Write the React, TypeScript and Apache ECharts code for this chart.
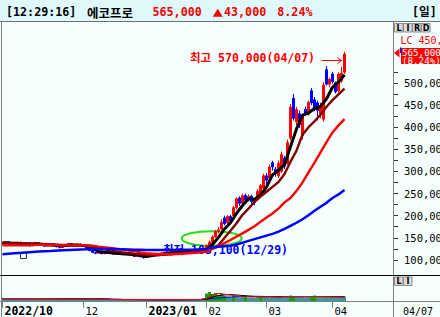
import React, { useEffect, useRef } from 'react';
import * as echarts from 'echarts';

// ---- categories (trading days) ----
const tradingDays: [string, number[]][] = [
  ['2022/10', [25, 26, 27, 28, 31]],
  ['2022/11', [1, 2, 3, 4, 7, 8, 9, 10, 11, 14, 15, 16, 17, 18, 21, 22, 23, 24, 25, 28, 29, 30]],
  ['2022/12', [1, 2, 5, 6, 7, 8, 9, 12, 13, 14, 15, 16, 19, 20, 21, 22, 23, 26, 27, 28, 29]],
  ['2023/01', [2, 3, 4, 5, 6, 9, 10, 11, 12, 13, 16, 17, 18, 19, 20, 25, 26, 27, 30, 31]],
  ['2023/02', [1, 2, 3, 6, 7, 8, 9, 10, 13, 14, 15, 16, 17, 20, 21, 22, 23, 24, 27, 28]],
  ['2023/03', [2, 3, 6, 7, 8, 9, 10, 13, 14, 15, 16, 17, 20, 21, 22, 23, 24, 27, 28, 29, 30, 31]],
  ['2023/04', [3, 4, 5, 6, 7]],
];
const dates: string[] = tradingDays.flatMap(([m, ds]) => ds.map((d) => `${m}/${String(d).padStart(2, '0')}`));
const emptySlots = 16;

const axisLabelDates = ['2022/10/25', '2022/12/01', '2023/01/02', '2023/02/01', '2023/03/02', '2023/04/03'];
const axisLabelTexts = ['2022/10', '12', '2023/01', '02', '03', '04'];
const axisLabelBold = [true, false, true, false, false, false];

// ---- prices, thousand won: [open, close, low, high] ----
const ohlc: number[][] = [
  [136, 138, 134, 140], [138, 141, 136, 143], [141, 136, 135, 142], [136, 139, 134, 140], [139, 137, 135, 141],
  [137, 140, 136, 142], [140, 137, 135, 141], [137, 133, 132, 138], [133, 135, 131, 137], [135, 132, 130, 136],
  [132, 136, 131, 137], [136, 139, 134, 141], [139, 137, 135, 140], [137, 134, 133, 138], [134, 131, 129, 135],
  [131, 133, 130, 134], [133, 136, 132, 137], [136, 134, 133, 137], [134, 130, 128, 135], [130, 128, 126, 131],
  [128, 131, 127, 132], [131, 134, 130, 135], [134, 137, 133, 139], [137, 135, 134, 138], [135, 133, 132, 136],
  [133, 136, 132, 137], [136, 134, 133, 137], [134, 131, 130, 135], [131, 126, 125, 132], [126, 121, 120, 127],
  [121, 117, 116, 122], [117, 115, 113, 118], [115, 117, 114, 119], [117, 114, 113, 118], [114, 116, 113, 117],
  [116, 118, 115, 119], [118, 115, 114, 119], [115, 113, 112, 116], [113, 116, 112, 117], [116, 114, 113, 117],
  [114, 112, 111, 115], [112, 115, 111, 116], [115, 113, 112, 116], [113, 110, 109, 114], [110, 108, 107, 111],
  [108, 110, 107, 111], [110, 107, 106, 111], [107, 106, 103.1, 108], [106, 110, 105, 111], [110, 113, 109, 114],
  [113, 111, 110, 114], [111, 115, 110, 116], [115, 113, 112, 116], [113, 116, 112, 117], [116, 114, 113, 117],
  [114, 118, 113, 119], [118, 116, 115, 119], [116, 119, 115, 120], [119, 117, 116, 120], [117, 120, 116, 121],
  [120, 118, 117, 121], [118, 121, 117, 122], [121, 119, 118, 122], [119, 120, 118, 121], [120, 118, 117, 121],
  [118, 121, 117, 122], [121, 122, 119, 124], [122, 127, 121, 128], [124, 132, 122, 135], [132, 140, 130, 144],
  [140, 152, 138, 156], [152, 165, 150, 168], [165, 168, 160, 174], [170, 185, 168, 192], [195, 182, 178, 200],
  [184, 198, 180, 201], [198, 188, 184, 202], [200, 218, 196, 222], [218, 238, 214, 242], [240, 228, 222, 244],
  [228, 245, 225, 250], [246, 235, 230, 250], [236, 244, 232, 248], [244, 232, 226, 247], [234, 230, 224, 238],
  [236, 255, 233, 260], [250, 268, 246, 272], [262, 290, 258, 295], [290, 280, 272, 296], [285, 310, 280, 316],
  [320, 310, 302, 324], [305, 295, 288, 310], [290, 318, 285, 325], [300, 338, 296, 345], [330, 312, 305, 335],
  [318, 365, 315, 372], [375, 445, 370, 452], [465, 420, 415, 475], [412, 440, 405, 446], [430, 405, 398, 438],
  [380, 425, 372, 430], [440, 432, 425, 446], [430, 456, 426, 460], [482, 455, 450, 488], [462, 440, 436, 468],
  [455, 438, 415, 460], [430, 448, 420, 455], [418, 495, 412, 502], [530, 497, 494, 538], [497, 508, 490, 512],
  [520, 503, 498, 525], [500, 480, 476, 503], [482, 520, 478, 524], [505, 522, 500, 536], [524, 565, 520, 570],
];

const maIdx = [0, 4, 8, 12, 16, 20, 24, 28, 30, 32, 36, 40, 44, 46, 48, 52, 56, 60, 64, 66, 68,
  70, 72, 74, 76, 78, 80, 82, 84, 86, 88, 90, 92, 94, 96, 98, 100, 102, 104, 106, 108, 110, 112, 114];
const ma5 = [139, 138, 136, 136, 134, 132, 134, 132, 126, 119, 116, 114, 112, 110, 108, 112, 115, 118, 119, 120, 124,
  135, 151, 170, 184, 205, 223, 238, 237, 246, 265, 292, 303, 315, 356, 396, 427, 432, 442, 447, 464, 490, 502, 518];
const ma10 = [138, 138, 137, 136, 135, 134, 134, 133, 131, 128, 121, 117, 114, 113, 111, 111, 113, 116, 118, 119, 120,
  126, 133, 150, 166, 183, 202, 216, 231, 243, 254, 265, 276, 294, 322, 347, 383, 400, 413, 428, 446, 461, 474, 487];
const ma20 = [133, 133, 133, 134, 134, 133, 133, 133, 132, 130, 127, 123, 120, 117, 115, 113, 113, 114, 116, 117, 119,
  125, 131, 138, 145, 153, 160, 168, 176, 186, 196, 205, 216, 230, 240, 256, 275, 298, 320, 343, 366, 388, 404, 418];
const ma60 = [113, 115, 117, 119, 120, 122, 123, 124, 125, 125, 125, 124, 123, 123, 122.5, 122.5, 122.5, 123, 123, 124, 125,
  128, 130, 131, 132, 135, 139, 143, 147, 151, 155, 159, 164, 170, 177, 184, 192, 201, 211, 220, 229, 240, 248, 258];

const signalDate = '2022/11/03';
const signalPrice = 110;

// ---- volume (relative) ----
const volume = [
  10, 9, 11, 9, 10,
  10, 9, 9, 10, 8, 9, 11, 9, 8, 10, 9, 8, 9, 10, 9, 8, 9, 10, 9, 8, 9, 9,
  9, 11, 10, 8, 7, 6, 6, 5, 6, 5, 5, 6, 5, 5, 6, 5, 5, 6, 6, 5, 7,
  6, 5, 6, 5, 5, 6, 5, 5, 6, 5, 6, 5, 5, 6, 5, 6, 6, 5, 7, 10,
  30, 36, 28, 32, 22, 30, 20, 18, 16, 20, 18, 15, 16, 22, 14, 15, 14, 16, 20, 18,
  16, 14, 15, 16, 18, 17, 14, 18, 22, 20, 18, 16, 17, 15, 16, 20, 22, 18, 16, 19,
  17, 15, 16, 14, 15, 16, 18,
];
const volIdx = [0, 10, 20, 30, 36, 40, 50, 60, 66, 68, 70, 72, 76, 80, 84, 88, 92, 96, 100, 104, 108, 112, 114];
const volMa5 = [10, 9.5, 9, 9, 6, 5.5, 5.5, 5.5, 6, 11, 24, 30, 24, 18, 17, 17, 16, 18, 18, 18, 17, 16, 16];
const volMa10 = [9.5, 9.5, 9, 9.5, 7, 6, 5.5, 5.5, 6, 8, 16, 22, 26, 22, 18, 17, 17, 18, 18, 18, 18, 17, 17];
const volMa20 = [9.5, 9.5, 9, 9, 8, 7, 5.8, 5.5, 5.7, 7, 10, 12, 16, 18, 19, 18, 17, 17, 17, 18, 18, 17, 17];

const priceTicks = [100, 125, 150, 175, 200, 225, 250, 275, 300, 325, 350, 375, 400, 425, 450, 475, 500, 525];
const priceLabels = [100, 150, 200, 250, 300, 350, 400, 450, 500];

const mono = "'DejaVu Sans Mono', 'Noto Sans CJK KR', monospace";
const kr = "'Noto Sans CJK KR', sans-serif";
const RED = '#f00000';
const GRAY = '#808080';

function buildOption() {
  const cats = [...dates, ...Array(emptySlots).fill('')];
  const labelIdx = axisLabelDates.map((d) => dates.indexOf(d));
  const pair = (idx: number[], vals: number[]) => idx.map((i, k) => [i, vals[k]]);
  const maLine = (vals: number[], color: string, width: number) => ({
    type: 'line', xAxisIndex: 0, yAxisIndex: 0, data: pair(maIdx, vals), symbol: 'none',
    lineStyle: { color, width }, silent: true,
  });
  const volLine = (vals: number[], color: string) => ({
    type: 'line', xAxisIndex: 1, yAxisIndex: 1, data: pair(volIdx, vals), symbol: 'none',
    lineStyle: { color, width: 1.2 }, silent: true,
  });

  const btn = (x: number, y: number, letter: string) => [
    { type: 'rect', z: 6, shape: { x, y, width: 8.5, height: 8.5 }, style: { fill: '#dcdcdc', stroke: '#8a8a8a', lineWidth: 1 } },
    { type: 'text', z: 7, x: x + 4.5, y: y + 4.8, style: { text: letter, fill: '#000', fontSize: 8, fontWeight: 'bold', fontFamily: "'DejaVu Sans', sans-serif", align: 'center', verticalAlign: 'middle' } },
  ];
  const hText = (x: number, text: string, fill: string, opts: any = {}) => ({
    type: 'text', z: 6, x, y: 12,
    style: { text, fill, fontSize: 11.7, fontWeight: 'bold', fontFamily: mono, align: 'left', verticalAlign: 'middle', ...opts },
  });

  return {
    animation: false,
    backgroundColor: '#f5fffe',
    grid: [
      { left: 1, width: 393, top: 22, height: 253, outerBoundsMode: 'none', containLabel: false },
      { left: 1, width: 393, top: 276, height: 25, outerBoundsMode: 'none', containLabel: false },
    ],
    xAxis: [
      { type: 'category', gridIndex: 0, data: cats, boundaryGap: true, show: false },
      {
        type: 'category', gridIndex: 1, data: cats, boundaryGap: true,
        axisLine: { show: false },
        axisTick: { show: true, alignWithLabel: true, length: 7, interval: (i: number) => labelIdx.includes(i), lineStyle: { color: GRAY } },
        axisLabel: {
          interval: (i: number) => labelIdx.includes(i),
          formatter: (_v: string, i: number) => {
            const k = labelIdx.indexOf(i);
            if (k < 0) return '';
            return axisLabelBold[k] ? `{b|${axisLabelTexts[k]}}` : `{n|${axisLabelTexts[k]}}`;
          },
          align: 'left', margin: 3, padding: [0, 0, 0, 2], hideOverlap: false,
          rich: {
            b: { fontFamily: mono, fontSize: 11.5, fontWeight: 'bold', color: '#000', lineHeight: 14 },
            n: { fontFamily: mono, fontSize: 10.5, color: '#000', lineHeight: 14 },
          },
        },
      },
    ],
    yAxis: [
      {
        type: 'value', gridIndex: 0, position: 'right', min: 66, max: 637.5, scale: true,
        axisLine: { show: false }, splitLine: { show: false },
        axisTick: { show: true, customValues: priceTicks, length: 4, lineStyle: { color: '#333' } },
        axisLabel: {
          customValues: priceLabels, margin: 10, color: '#000', fontFamily: mono, fontSize: 10.5,
          formatter: (v: number) => (v * 1000).toLocaleString('en-US'),
        },
      },
      { type: 'value', gridIndex: 1, min: 0, max: 100, show: false },
    ],
    series: [
      {
        type: 'candlestick', xAxisIndex: 0, yAxisIndex: 0, data: ohlc, barWidth: 2,
        itemStyle: { color: '#ff0000', color0: '#0000ff', borderColor: '#ff0000', borderColor0: '#0000ff', borderWidth: 1 },
        silent: true,
      },
      maLine(ma5, '#000000', 3),
      maLine(ma10, '#800000', 2.4),
      maLine(ma20, '#ff0000', 2.4),
      maLine(ma60, '#0000ff', 2.5),
      {
        type: 'scatter', xAxisIndex: 0, yAxisIndex: 0, data: [[dates.indexOf(signalDate), signalPrice]],
        symbol: 'rect', symbolSize: 6, itemStyle: { color: 'rgba(0,0,0,0)', borderColor: '#000', borderWidth: 1 }, silent: true,
      },
      {
        type: 'bar', xAxisIndex: 1, yAxisIndex: 1, data: volume, barWidth: 3, silent: true,
        itemStyle: { color: (p: any) => (p.value >= 20 ? '#10a010' : '#3a9a9a') },
      },
      volLine(volMa20, '#0000ff'),
      volLine(volMa10, '#000000'),
      volLine(volMa5, '#ff0000'),
    ],
    graphic: [
      // header
      { type: 'rect', z: 5, shape: { x: 0, y: 0, width: 440, height: 21.5 }, style: { fill: '#dff9fb' } },
      { type: 'line', z: 6, shape: { x1: 0, y1: 21.5, x2: 440, y2: 21.5 }, style: { stroke: '#707070', lineWidth: 1 } },
      hText(6, '[12:29:16]', '#000'),
      { type: 'text', z: 6, x: 87, y: 12, style: { text: '에코프로', fill: '#000', fontSize: 12.5, fontWeight: 'bold', fontFamily: kr, align: 'left', verticalAlign: 'middle' } },
      hText(152.5, '565,000', RED),
      { type: 'polygon', z: 6, shape: { points: [[212.7, 16.7], [217.7, 8.7], [222.7, 16.7]] }, style: { fill: RED } },
      hText(224, '43,000', RED),
      hText(277.3, '8.24%', RED),
      hText(412, '[일]', '#000'),
      // frame
      { type: 'line', z: 6, shape: { x1: 1.5, y1: 22, x2: 1.5, y2: 317 }, style: { stroke: GRAY, lineWidth: 1 } },
      { type: 'line', z: 6, shape: { x1: 393.5, y1: 22, x2: 393.5, y2: 317 }, style: { stroke: GRAY, lineWidth: 1 } },
      { type: 'line', z: 6, shape: { x1: 0, y1: 275.5, x2: 440, y2: 275.5 }, style: { stroke: '#000', lineWidth: 1 } },
      { type: 'line', z: 6, shape: { x1: 0, y1: 301.5, x2: 440, y2: 301.5 }, style: { stroke: GRAY, lineWidth: 1 } },
      // right panel widgets
      ...btn(394.5, 23.5, 'L'), ...btn(403.5, 23.5, 'I'), ...btn(412.5, 23.5, 'R'), ...btn(421.5, 23.5, 'D'),
      ...btn(394.5, 277, 'L'), ...btn(403.5, 277, 'I'),
      { type: 'text', z: 6, x: 400.5, y: 40, style: { text: 'LC 450,', fill: '#ff0000', fontSize: 10, fontFamily: mono, align: 'left', verticalAlign: 'middle' } },
      { type: 'rect', z: 6, shape: { x: 401, y: 48, width: 39, height: 16 }, style: { fill: '#ff0000' } },
      { type: 'rect', z: 7, shape: { x: 400, y: 47.5, width: 1.5, height: 5.5 }, style: { fill: '#0000ff' } },
      { type: 'polygon', z: 6, shape: { points: [[394, 53], [399.5, 48.5], [399.5, 57.5]] }, style: { fill: '#ff0000' } },
      { type: 'text', z: 7, x: 402, y: 56.3, style: { text: '565,000\n(8.24%)', fill: '#fff', fontSize: 9.2, lineHeight: 8, fontFamily: mono, align: 'left', verticalAlign: 'middle' } },
      { type: 'text', z: 6, x: 403, y: 311, style: { text: '04/07', fill: '#000', fontSize: 10, fontFamily: mono, align: 'left', verticalAlign: 'middle' } },
      // annotations
      { type: 'text', z: 6, x: 190, y: 58.3, style: { text: '최고 570,000(04/07)', fill: '#ff0000', fontSize: 11.5, fontWeight: 'bold', fontFamily: mono, align: 'left', verticalAlign: 'middle' } },
      { type: 'line', z: 6, shape: { x1: 321.5, y1: 60.5, x2: 341.5, y2: 60.5 }, style: { stroke: '#ff0000', lineWidth: 1 } },
      { type: 'polyline', z: 6, shape: { points: [[337.5, 57.5], [341.5, 60.5], [337.5, 63.5]] }, style: { stroke: '#ff0000', lineWidth: 1 } },
      { type: 'ellipse', z: 1, shape: { cx: 211.7, cy: 238.5, rx: 30, ry: 7.3 }, style: { fill: '#fffbe4', stroke: '#22dd22', lineWidth: 2 } },
      { type: 'text', z: 1, x: 163, y: 249.5, style: { text: '최저 103,100(12/29)', fill: '#0000ff', fontSize: 11.5, fontWeight: 'bold', fontFamily: mono, align: 'left', verticalAlign: 'middle' } },
    ],
  };
}

export default function App() {
  const ref = useRef<HTMLDivElement>(null);
  useEffect(() => {
    const chart = echarts.init(ref.current!, null, { renderer: 'svg' });
    chart.setOption(buildOption() as any);
    return () => chart.dispose();
  }, []);
  return <div ref={ref} style={{ position: 'absolute', left: 0, top: 0, width: 440, height: 317 }} />;
}
